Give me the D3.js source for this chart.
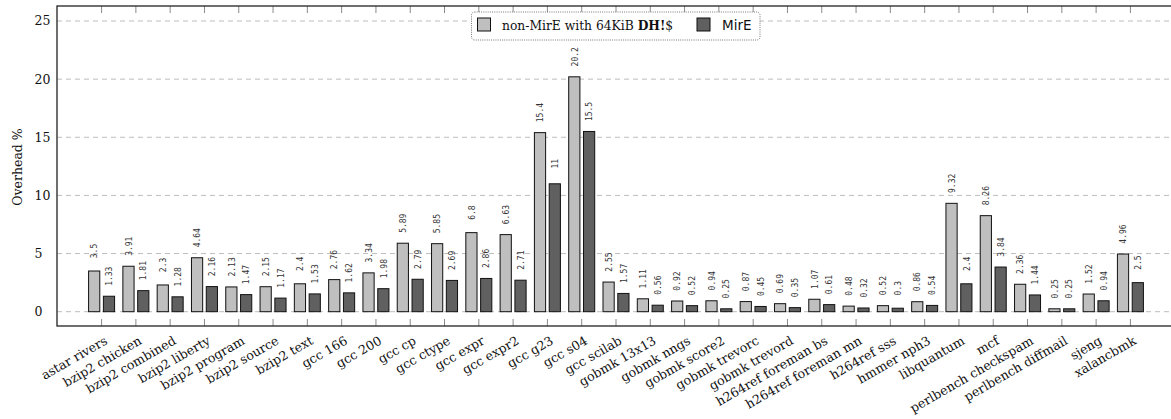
<!DOCTYPE html>
<html><head><meta charset="utf-8">
<script src="https://cdn.jsdelivr.net/npm/d3@7"></script>
<style>body{margin:0;background:#fff;} svg{display:block;}</style>
</head><body>
<svg id="c" width="1171" height="419"></svg>
<script>
const categories = ["astar rivers","bzip2 chicken","bzip2 combined","bzip2 liberty","bzip2 program","bzip2 source","bzip2 text","gcc 166","gcc 200","gcc cp","gcc ctype","gcc expr","gcc expr2","gcc g23","gcc s04","gcc scilab","gobmk 13x13","gobmk nngs","gobmk score2","gobmk trevorc","gobmk trevord","h264ref foreman bs","h264ref foreman mn","h264ref sss","hmmer nph3","libquantum","mcf","perlbench checkspam","perlbench diffmail","sjeng","xalancbmk"];
const nonMirE = [3.5,3.91,2.3,4.64,2.13,2.15,2.4,2.76,3.34,5.89,5.85,6.8,6.63,15.4,20.2,2.55,1.11,0.92,0.94,0.87,0.69,1.07,0.48,0.52,0.86,9.32,8.26,2.36,0.25,1.52,4.96];
const mirE = [1.33,1.81,1.28,2.16,1.47,1.17,1.53,1.62,1.98,2.79,2.69,2.86,2.71,11,15.5,1.57,0.56,0.52,0.25,0.45,0.35,0.61,0.32,0.3,0.54,2.4,3.84,1.44,0.25,0.94,2.5];
const yTicks = [0,5,10,15,20,25];
const seriesNames = ["non-MirE with 64KiB ", "MirE"];

const svg = d3.select("#c");
const L = 57, R = 1175, T = 6, B = 326;
const x = d3.scalePoint().domain(categories).range([L, R]).padding(1.3);
const y = d3.scaleLinear().domain([0, 25]).range([311.7, 21]);
const serif = "DejaVu Serif";
const colors = ["#bfbfbf", "#606060"];
const bw = 11.2, off = 7.4;

// grid
svg.append("g").selectAll("line").data(yTicks).join("line")
  .attr("x1", L).attr("x2", R).attr("y1", d => y(d)).attr("y2", d => y(d))
  .attr("stroke", "#bdbdbd").attr("stroke-width", 1).attr("stroke-dasharray", "5,4");

// ticks top & bottom
const tk = svg.append("g");
tk.selectAll("line.b").data(categories).join("line").attr("class","b")
  .attr("x1", d => x(d)).attr("x2", d => x(d)).attr("y1", B).attr("y2", B - 7)
  .attr("stroke", "#8a8a8a").attr("stroke-width", 1);
tk.selectAll("line.t").data(categories).join("line").attr("class","t")
  .attr("x1", d => x(d)).attr("x2", d => x(d)).attr("y1", T).attr("y2", T + 7)
  .attr("stroke", "#8a8a8a").attr("stroke-width", 1);

// bars
const series = [nonMirE, mirE];
series.forEach((vals, si) => {
  const g = svg.append("g");
  const cx = (d, i) => x(categories[i]) + (si === 0 ? -off : off);
  g.selectAll("rect").data(vals).join("rect")
    .attr("x", (d, i) => cx(d, i) - bw / 2).attr("width", bw)
    .attr("y", d => y(d)).attr("height", d => y(0) - y(d))
    .attr("fill", colors[si]).attr("stroke", "#111").attr("stroke-width", 1);
  g.selectAll("text").data(vals).join("text")
    .attr("transform", (d, i) => `translate(${cx(d, i) + 3.2},${y(d) - 20}) rotate(-90)`)
    .attr("text-anchor", "middle")
    .attr("font-family", "DejaVu Sans Mono").attr("font-size", 8).attr("fill", "#333")
    .text(d => String(d));
});

// frame
svg.append("rect").attr("x", L).attr("y", T).attr("width", R - L).attr("height", B - T)
  .attr("fill", "none").attr("stroke", "#222").attr("stroke-width", 1.3);

// y tick labels
svg.append("g").selectAll("text").data(yTicks).join("text")
  .attr("x", 34.5).attr("y", d => y(d)).attr("dy", "0.35em")
  .attr("font-family", serif).attr("font-size", 12.5).attr("fill", "#111")
  .text(d => d);

// y title
svg.append("text").attr("transform", "translate(22,167) rotate(-90)")
  .attr("text-anchor", "middle").attr("font-family", serif).attr("font-size", 12.5).attr("fill", "#111")
  .text("Overhead %");

// x labels
svg.append("g").selectAll("text").data(categories).join("text")
  .attr("transform", d => `translate(${x(d) + 2},${B + 9}) rotate(-30)`)
  .attr("text-anchor", "end").attr("dy", "0.75em")
  .attr("font-family", serif).attr("font-size", 12.6).attr("fill", "#111")
  .text(d => d);

// legend
const lg = svg.append("g");
lg.append("rect").attr("x", 471.5).attr("y", 12).attr("width", 288.5).attr("height", 28).attr("rx", 3)
  .attr("fill", "#fff").attr("stroke", "#555").attr("stroke-width", 0.8).attr("stroke-dasharray", "1,1.2");
lg.append("rect").attr("x", 477.5).attr("y", 18).attr("width", 13).attr("height", 13)
  .attr("fill", colors[0]).attr("stroke", "#111");
const t1 = lg.append("text").attr("x", 502).attr("y", 29.5)
  .attr("font-family", serif).attr("font-size", 12.3).attr("fill", "#111");
t1.append("tspan").text(seriesNames[0]);
t1.append("tspan").attr("font-weight", "bold").text("DH!");
t1.append("tspan").text("$");
lg.append("rect").attr("x", 697).attr("y", 18).attr("width", 13).attr("height", 13)
  .attr("fill", colors[1]).attr("stroke", "#111");
lg.append("text").attr("x", 722).attr("y", 29.5)
  .attr("font-family", "DejaVu Sans").attr("font-size", 13.5).attr("fill", "#111")
  .text(seriesNames[1]);
</script>
</body></html>
